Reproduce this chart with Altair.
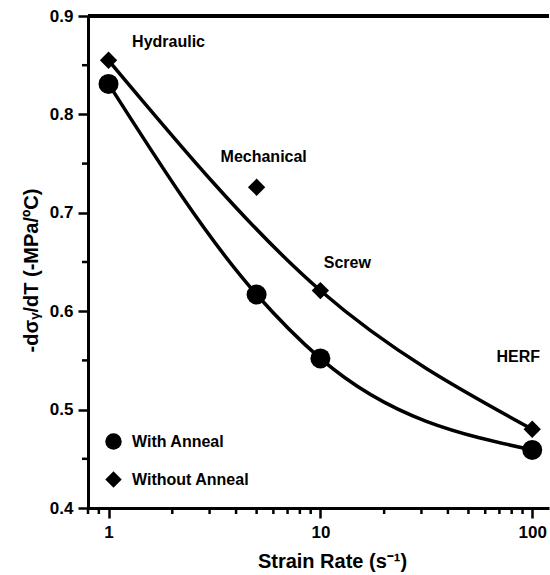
import altair as alt
import pandas as pd

# ---- data ----
strain_rate = [1, 5, 10, 100]
machines = ["Hydraulic", "Mechanical", "Screw", "HERF"]
with_anneal = [0.831, 0.617, 0.552, 0.459]
without_anneal = [0.855, 0.726, 0.621, 0.480]
with_on_curve = [True, True, True, True]
without_on_curve = [True, False, True, True]

label_x = [1.92, 5.4, 13.4, 86]
label_y = [0.874, 0.757, 0.649, 0.553]

series_names = ["With Anneal", "Without Anneal"]
x_major_ticks = [1, 10, 100]
x_minor_ticks = [0.8, 0.9, 2, 3, 4, 5, 6, 7, 8, 9, 20, 30, 40, 50, 60, 70, 80, 90]
y_major_ticks = [0.4, 0.5, 0.6, 0.7, 0.8, 0.9]
y_minor_ticks = [0.45, 0.55, 0.65, 0.75, 0.85]

rows = []
for s, vals, flags in [(series_names[0], with_anneal, with_on_curve),
                       (series_names[1], without_anneal, without_on_curve)]:
    for x, v, f, m in zip(strain_rate, vals, flags, machines):
        rows.append({"series": s, "rate": x, "value": v, "fit": f, "machine": m})
df = pd.DataFrame(rows)
labels_df = pd.DataFrame({"text": machines, "x": label_x, "y": label_y})
xmin_df = pd.DataFrame({"t": x_minor_ticks})
ymin_df = pd.DataFrame({"t": y_minor_ticks})

FONT = "Liberation Sans"
W, H = 461, 492

x_scale = alt.Scale(type="log", domain=[0.8, 120], nice=False)
y_scale = alt.Scale(domain=[0.4, 0.9], nice=False, zero=False)

x_axis = alt.Axis(
    values=x_major_ticks, grid=False, format="d",
    labelOverlap=False, labelFlush=False,
    labelFont=FONT, labelFontSize=17, labelFontWeight="bold", labelColor="black",
    labelPadding=6,
    tickSize=10, tickWidth=2.5, tickColor="black",
    domainWidth=3, domainColor="black",
    title="Strain Rate (s⁻¹)", titleFont=FONT, titleFontSize=20, titleFontWeight="bold",
    titleColor="black", titleX=244, titleY=59, titleBaseline="alphabetic",
)
y_axis = alt.Axis(
    values=y_major_ticks, grid=False, format=".1f",
    labelOverlap=False, labelFlush=False,
    labelFont=FONT, labelFontSize=17, labelFontWeight="bold", labelColor="black",
    labelPadding=5,
    tickSize=10, tickWidth=2.5, tickColor="black",
    domainWidth=3, domainColor="black",
    title="-dσᵧ/dT (-MPa/ºC)", titleFont=FONT, titleFontSize=20, titleFontWeight="bold",
    titleColor="black", titleAngle=270, titleX=-57, titleY=254,
    titleBaseline="middle", titleAlign="center",
)

base = alt.Chart(df)

lines = base.transform_filter("datum.fit").mark_line(
    color="black", strokeWidth=3.5, interpolate="monotone"
).encode(
    x=alt.X("rate:Q", scale=x_scale, axis=x_axis),
    y=alt.Y("value:Q", scale=y_scale, axis=y_axis),
    detail="series:N",
)

shape_enc = alt.Shape(
    "series:N",
    scale=alt.Scale(domain=series_names, range=["circle", "diamond"]),
    legend=alt.Legend(
        title=None, orient="none", legendX=17, legendY=417,
        labelFont=FONT, labelFontSize=16, labelFontWeight="bold", labelColor="black",
        symbolSize=270, symbolFillColor="black", symbolStrokeColor="black",
        symbolStrokeWidth=0, rowPadding=21, labelOffset=10, padding=0,
    ),
)

pts_with = base.transform_filter(f"datum.series == '{series_names[0]}'").mark_point(
    filled=True, color="black", opacity=1, size=400
).encode(
    x=alt.X("rate:Q", scale=x_scale),
    y=alt.Y("value:Q", scale=y_scale),
    shape=shape_enc,
)
pts_without = base.transform_filter(f"datum.series == '{series_names[1]}'").mark_point(
    filled=True, color="black", opacity=1, size=300
).encode(
    x=alt.X("rate:Q", scale=x_scale),
    y=alt.Y("value:Q", scale=y_scale),
    shape=shape_enc,
)

top_rule = alt.Chart(df).mark_rule(color="black", strokeWidth=3).encode(
    y=alt.datum(0.9, scale=y_scale)
)

x_minor_rules = alt.Chart(xmin_df).mark_rule(color="black", strokeWidth=2.5).encode(
    x=alt.X("t:Q", scale=x_scale),
    y=alt.value(H),
    y2=alt.value(H + 6),
)
y_minor_rules = alt.Chart(ymin_df).mark_rule(color="black", strokeWidth=2.5).encode(
    y=alt.Y("t:Q", scale=y_scale),
    x=alt.value(-6),
    x2=alt.value(0),
)

texts = alt.Chart(labels_df).mark_text(
    font=FONT, fontSize=16, fontWeight="bold", color="black", align="center", baseline="middle"
).encode(
    x=alt.X("x:Q", scale=x_scale),
    y=alt.Y("y:Q", scale=y_scale),
    text="text:N",
)

chart = alt.layer(
    lines, top_rule, x_minor_rules, y_minor_rules, pts_with, pts_without, texts
).properties(
    width=W, height=H,
    padding={"left": 88, "top": 16, "right": 1, "bottom": 67},
    autosize=alt.AutoSizeParams(type="none"),
    background="white",
).configure_view(stroke=None)

chart.save("out.html", embed_options={"renderer": "svg", "actions": False})
